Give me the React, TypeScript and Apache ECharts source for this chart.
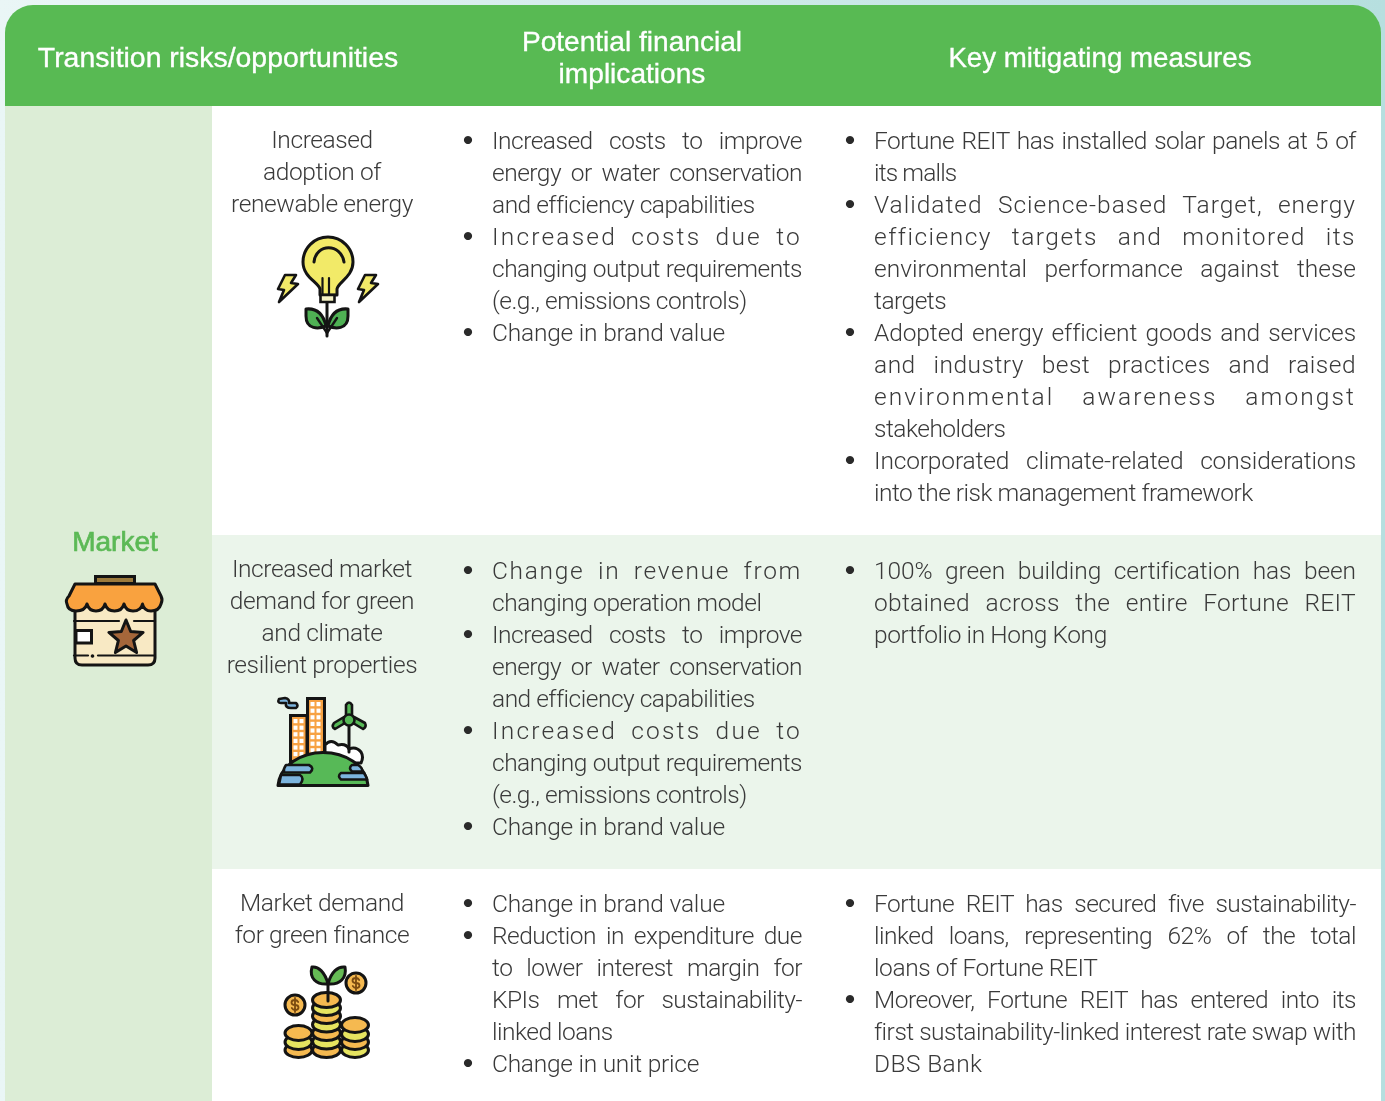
import React, { useEffect, useRef } from "react";
import * as echarts from "echarts";

const W = 1385;
const H = 1101;

const headerLeft = ["Transition risks/opportunities"];
const headerMiddle = ["Potential financial", "implications"];
const headerRight = ["Key mitigating measures"];
const pillar = "Market";

const risk1 = ["Increased", "adoption of", "renewable energy"];
const risk2 = ["Increased market", "demand for green", "and climate", "resilient properties"];
const risk3 = ["Market demand", "for green finance"];

const impl1 = [
  ["Increased costs to improve", "energy or water conservation", "and efficiency capabilities"],
  ["Increased costs due to", "changing output requirements", "(e.g., emissions controls)"],
  ["Change in brand value"],
];
const impl2 = [
  ["Change in revenue from", "changing operation model"],
  ["Increased costs to improve", "energy or water conservation", "and efficiency capabilities"],
  ["Increased costs due to", "changing output requirements", "(e.g., emissions controls)"],
  ["Change in brand value"],
];
const impl3 = [
  ["Change in brand value"],
  ["Reduction in expenditure due", "to lower interest margin for", "KPIs met for sustainability-", "linked loans"],
  ["Change in unit price"],
];
const meas1 = [
  ["Fortune REIT has installed solar panels at 5 of", "its malls"],
  ["Validated Science-based Target, energy", "efficiency targets and monitored its", "environmental performance against these", "targets"],
  ["Adopted energy efficient goods and services", "and industry best practices and raised", "environmental awareness amongst", "stakeholders"],
  ["Incorporated climate-related considerations", "into the risk management framework"],
];
const meas2 = [
  ["100% green building certification has been", "obtained across the entire Fortune REIT", "portfolio in Hong Kong"],
];
const meas3 = [
  ["Fortune REIT has secured five sustainability-", "linked loans, representing 62% of the total", "loans of Fortune REIT"],
  ["Moreover, Fortune REIT has entered into its", "first sustainability-linked interest rate swap with", "DBS Bank"],
];

const trackedLines: [string, number][] = [
  ["Increased costs due to", 2.2],
  ["Change in revenue from", 1.7],
  ["Validated Science-based Target, energy", 1.0],
  ["efficiency targets and monitored its", 1.5],
  ["environmental awareness amongst", 2.1],
  ["and industry best practices and raised", 0.5],
  ["obtained across the entire Fortune REIT", 0.3],
  ["Change in brand value", -0.2],
  ["Change in unit price", -0.25],
  ["DBS Bank", 0.4],
  ["its malls", -0.85],
  ["loans of Fortune REIT", -0.4],
  ["changing operation model", -0.42],
  ["portfolio in Hong Kong", -0.4],
  ["Incorporated climate-related considerations", -0.15],
  ["environmental performance against these", 0],
  ["Adopted energy efficient goods and services", -0.1],
  ["100% green building certification has been", -0.1],
];

const BODY_FONT = "Roboto, 'Liberation Sans', sans-serif";
const HEAD_FONT = "'Liberation Sans', Roboto, sans-serif";
const TEXT = "#3a3a3a";
const INK = "#141414";
const BODY_SIZE = 24.5;
const BODY_TRACK = -0.5;

let shapeId = 0;
function p(d: string, fill: string, lineWidth = 3, stroke = INK) {
  const name = "ico" + shapeId++;
  echarts.graphic.registerShape(name, echarts.graphic.extendPath(d, {}));
  return {
    type: name,
    style: { fill, stroke, lineWidth, lineJoin: "round", lineCap: "round" },
  };
}
function ln(x1: number, y1: number, x2: number, y2: number, lineWidth = 3) {
  return { type: "line", shape: { x1, y1, x2, y2 }, style: { stroke: INK, lineWidth, lineCap: "round" } };
}
function rc(x: number, y: number, width: number, height: number, fill: string, stroke?: string, lineWidth = 0, r = 0) {
  return { type: "rect", shape: { x, y, width, height, r }, style: { fill, stroke, lineWidth } };
}
function el(cx: number, cy: number, rx: number, ry: number, fill: string, lineWidth = 3) {
  return { type: "ellipse", shape: { cx, cy, rx, ry }, style: { fill, stroke: INK, lineWidth } };
}

function bolt(dx: number) {
  const pts = [[285, 275], [296, 275], [291, 283], [298, 284], [279, 302], [284, 290], [278, 289]];
  return p("M" + pts.map(([x, y]) => `${x + dx} ${y}`).join(" L") + " Z", "#f2ea68", 2.6);
}

function bulbIcon() {
  const Y = "#f2ea68";
  const G = "#4fb154";
  return [
    bolt(0),
    bolt(80),
    ln(327, 302, 327, 336),
    p("M320 295 L320 289 C318 282 303 277 303 262 A25 25 0 1 1 353 262 C353 277 338 282 337 289 L337 295 Z", Y),
    p("M314 262 C316 243 341 243 344 262", "none"),
    ln(322.5, 278, 322.5, 295, 2.2),
    ln(329, 278, 329, 295, 2.2),
    rc(320.5, 295, 14, 7, "#f5f2c6", INK, 2.6),
    p("M306 309 C316 308 323 313 326 326 C319 329 306 330 306 316 Z", G),
    p("M348 309 C338 308 331 313 328 326 C335 329 348 330 348 316 Z", G),
    ln(327, 333, 317, 318, 2.4),
    ln(327, 333, 337, 318, 2.4),
  ];
}

function shopIcon() {
  const star: string[] = [];
  for (let i = 0; i < 10; i++) {
    const r = i % 2 === 0 ? 18 : 8;
    const a = -Math.PI / 2 + (i * Math.PI) / 5;
    star.push(`${(126 + r * Math.cos(a)).toFixed(1)} ${(638 + r * Math.sin(a)).toFixed(1)}`);
  }
  return [
    rc(95.5, 576.5, 39, 7, "#9c7a3c", INK, 3),
    p("M75 604 L155 604 L155 658 Q155 665 148 665 L82 665 Q75 665 75 658 Z", "#f8e9c4"),
    ln(74, 621, 119, 621, 2.2),
    ln(134, 621, 155, 621, 2.2),
    rc(76, 630.5, 15.5, 12.5, "#ffffff", INK, 3),
    p(`M${star.join(" L")} Z`, "#a5663a"),
    ln(74, 655.5, 88, 655.5, 2.2),
    ln(98, 655.5, 155, 655.5, 2.2),
    { type: "circle", shape: { cx: 92.5, cy: 656, r: 1.8 }, style: { fill: INK } },
    p("M75 584 L155 584 L161 596 Q163 600 161 604 Q159 611 151 611 Q144 611 142.5 604 Q141 611 133 611 Q126 611 124 604 Q122 611 114.5 611 Q107 611 105 604 Q103 611 96 611 Q89 611 87 604 Q85 611 76 611 Q68 611 67 604 Q65 600 69 596 Z", "#f9a23f"),
  ];
}

function cityIcon() {
  const O = "#f7a243";
  const B = "#7cb4de";
  const GR = "#57b957";
  const wins: any[] = [];
  const addWin = (x0: number, y0: number, cols: number, rows: number) => {
    for (let r = 0; r < rows; r++)
      for (let c = 0; c < cols; c++) wins.push(rc(x0 + c * 6, y0 + r * 6.6, 4, 4.2, "#ffffff"));
  };
  addWin(293.5, 719, 2, 6);
  addWin(310.5, 702, 2, 8);
  return [
    p("M279 699 Q277 703 281 703 L286 703 Q285 708 291 708 L296 708 Q299 706 296 703 L289 703 Q290 699 285 698 Z", B, 2.6),
    rc(290.5, 715.5, 16.5, 46, O, INK, 3),
    rc(307.5, 698.5, 17, 56, O, INK, 3),
    ...wins,
    p("M325 745 Q331 738 338 745 Q346 743 349 749 Q356 746 361 752 Q364 757 361 763 L325 763 Z", "#ffffff"),
    ln(349, 722, 349, 752),
    p("M346 720 L346 705 Q349 700 352 705 L352 720 Z", GR, 2.6),
    p("M345 723 L335 729 Q331 727 334 723 L344 717 Z", GR, 2.6),
    p("M353 723 L363 729 Q367 727 365 723 L354 717 Z", GR, 2.6),
    el(349, 720, 5.5, 5.5, GR, 2.6),
    p("M278 785.5 C280 765 302 752.5 323 752.5 C345 752.5 366 765 368 785.5 Z", GR),
    p("M286 765 L309 765 Q315 768 310 772.5 L284 772.5 Q283 769 286 765 Z", B, 2.6),
    p("M281 775 L300 775 Q305 778 300 784.5 L279 784.5 Z", B, 2.6),
    p("M352 765 L358 765 Q363 768 362 771.5 L352 771.5 Q348 768 352 765 Z", B, 2.6),
    p("M341 773 L364 773 Q367 778 367 779.5 L341 779.5 Q337 776 341 773 Z", B, 2.6),
  ];
}

function dollar(cx: number, cy: number) {
  return p(
    `M${cx + 3.2} ${cy - 3} Q${cx + 2} ${cy - 5} ${cx} ${cy - 5} Q${cx - 3.5} ${cy - 5} ${cx - 3.5} ${cy - 2.5} Q${cx - 3.5} ${cy} ${cx} ${cy} Q${cx + 3.5} ${cy} ${cx + 3.5} ${cy + 2.5} Q${cx + 3.5} ${cy + 5} ${cx} ${cy + 5} Q${cx - 2} ${cy + 5} ${cx - 3.2} ${cy + 3} M${cx} ${cy - 7} L${cx} ${cy + 7}`,
    "none",
    1.8,
    "#7a4a10",
  );
}

function coinsIcon() {
  const O = "#f5b950";
  const Y = "#e6e460";
  const coinStack = (cx: number, rx: number, ys: number[]) =>
    ys.map((y, i) => el(cx, y, rx, 7.5, (ys.length - 1 - i) % 2 === 0 ? O : Y));
  return [
    p("M328 984 C325 972 318 966 312 967 C309 978 316 985 328 984 Z", "#66bb55"),
    p("M328 984 C331 972 338 966 345 967 C347 978 340 985 328 984 Z", "#66bb55"),
    ...coinStack(298.5, 13.5, [1050, 1042, 1033]),
    ...coinStack(326.5, 14, [1050, 1041.5, 1033, 1024.5, 1016, 1008, 1000]),
    ...coinStack(355, 13.5, [1050, 1042, 1034, 1025]),
    ln(328, 983, 328, 1001, 3),
    el(295, 1005, 10, 10, O),
    dollar(295, 1005),
    el(356, 983, 10, 10, O),
    dollar(356, 983),
  ];
}

function centered(lines: string[], cx: number, y0: number, step: number, size: number, weight: number, fill: string, family: string, boldness = 0) {
  return lines.map((text, i) => ({
    type: "text",
    silent: true,
    style: {
      text, x: cx, y: y0 + i * step, fill, fontSize: size, fontWeight: weight, fontFamily: family,
      align: "center", verticalAlign: "middle",
      ...(boldness ? { stroke: fill, lineWidth: boldness } : {}),
    },
  }));
}

const JUSTIFY: Record<string, number> = {};
const RISK_LINES = new Set([...risk1, ...risk2, ...risk3]);
const TRACKED = new Map(trackedLines);

function bullets(paras: string[][], bulletX: number, textX: number, right: number, y0: number) {
  const out: any[] = [];
  let row = 0;
  paras.forEach((lines) => {
    lines.forEach((text, i) => {
      const y = y0 + row * 32;
      if (i === 0) out.push({ type: "circle", shape: { cx: bulletX, cy: y - 1, r: 4.1 }, style: { fill: "#2a2a2a" } });
      if (i < lines.length - 1) JUSTIFY[text] = right - textX;
      out.push({
        type: "text",
        silent: true,
        style: { text, x: textX, y: y - 1, fill: TEXT, fontSize: BODY_SIZE, fontWeight: 300, fontFamily: BODY_FONT, align: "left", verticalAlign: "middle" },
      });
      row++;
    });
  });
  return out;
}

export default function App() {
  const ref = useRef<HTMLDivElement>(null);
  useEffect(() => {
    document.body.style.margin = "0";
    const chart = echarts.init(ref.current!, undefined, { renderer: "svg", width: W, height: H });
    const elements: any[] = [
      {
        type: "rect",
        shape: { x: 0, y: 0, width: W, height: H },
        style: { fill: new echarts.graphic.LinearGradient(0, 0, 1, 0, [{ offset: 0, color: "#eaf6f6" }, { offset: 1, color: "#b6dfdf" }]) },
      },
      rc(5, 106, 207, H - 106, "#dcedd6"),
      rc(212, 106, 1169, H - 106, "#ffffff"),
      rc(212, 535, 1169, 334, "#ebf5eb"),
      { type: "rect", shape: { x: 5, y: 5, width: 1376, height: 101, r: [28, 28, 0, 0] }, style: { fill: "#58ba53" } },
      ...centered(headerLeft, 218, 57, 32, 28.4, 400, "#ffffff", HEAD_FONT, 0.35),
      ...centered(headerMiddle, 632, 41, 32, 28.1, 400, "#ffffff", HEAD_FONT, 0.35),
      ...centered(headerRight, 1100, 57, 32, 27.7, 400, "#ffffff", HEAD_FONT, 0.35),
      ...centered([pillar], 115, 541, 32, 28, 400, "#5bb955", HEAD_FONT, 0.7),
      ...centered(risk1, 322, 139, 32, BODY_SIZE, 300, TEXT, BODY_FONT),
      ...centered(risk2, 322, 568, 32, BODY_SIZE, 300, TEXT, BODY_FONT),
      ...centered(risk3, 322, 902, 32, BODY_SIZE, 300, TEXT, BODY_FONT),
      ...bullets(impl1, 468, 492, 802, 141),
      ...bullets(impl2, 468, 492, 802, 571),
      ...bullets(impl3, 468, 492, 802, 904),
      ...bullets(meas1, 850, 874, 1356, 141),
      ...bullets(meas2, 850, 874, 1356, 571),
      ...bullets(meas3, 850, 874, 1356, 904),
      ...bulbIcon(),
      ...shopIcon(),
      ...cityIcon(),
      ...coinsIcon(),
    ];
    chart.setOption({ animation: false, graphic: { elements } });

    ref.current!.querySelectorAll("svg text").forEach((node) => {
      const t = node as SVGTextElement;
      const s = t.textContent || "";
      if (RISK_LINES.has(s)) {
        t.style.letterSpacing = "-0.4px";
        return;
      }
      const isBody = t.style.fontWeight === "300" || (t.getAttribute("style") || "").includes("300");
      if (!isBody) return;
      let ls = TRACKED.get(s) ?? BODY_TRACK;
      t.style.letterSpacing = ls + "px";
      const target = JUSTIFY[s];
      if (!target) return;
      const spaces = s.split(" ").length - 1;
      let extra = target - t.getComputedTextLength();
      if (extra < 0) {
        ls += extra / (s.length - 1);
        t.style.letterSpacing = ls + "px";
        extra = 0;
      }
      t.style.wordSpacing = extra / Math.max(spaces, 1) + "px";
    });
    return () => chart.dispose();
  }, []);
  return <div ref={ref} style={{ position: "fixed", left: 0, top: 0, width: W, height: H }} />;
}
